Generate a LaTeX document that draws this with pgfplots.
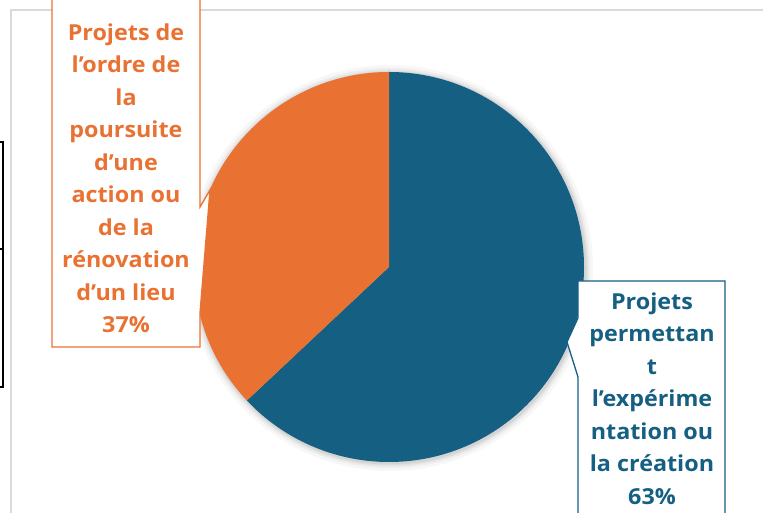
\documentclass[border=0pt]{standalone}
\usepackage{pgfplots}
\pgfplotsset{compat=1.18}
\usepackage{pgfplotstable}
\usepackage{fontspec}
\setmainfont{Open Sans}[FakeStretch=1.06]
\definecolor{pieblue}{HTML}{156082}
\definecolor{pieorange}{HTML}{E97132}
\definecolor{framegray}{HTML}{D9D9D9}
\pgfplotstableread{
label value
creation 63
renovation 37
}\piedata
\begin{document}
\begin{tikzpicture}
\pgfplotstablegetelem{0}{value}\of\piedata
\pgfmathsetmacro{\va}{\pgfplotsretval}
\pgfplotstablegetelem{1}{value}\of\piedata
\pgfmathsetmacro{\vb}{\pgfplotsretval}
\pgfmathsetmacro{\shareA}{\va/(\va+\vb)}
\pgfmathsetmacro{\angA}{90-360*\shareA}
\xdef\angA{\angA}
\begin{axis}[
  x=1pt, y=1pt, xmin=0, xmax=763, ymin=0, ymax=513,
  hide axis, scale only axis, clip=true,
]
% frame
\draw[framegray, line width=1.5pt] (axis cs:11,0) -- (axis cs:11,503) -- (axis cs:763,503);
% left black lines
\draw[black, line width=1.5pt] (axis cs:0,371) -- (axis cs:3,371) -- (axis cs:3,126) -- (axis cs:0,126);
\draw[black, line width=1.5pt] (axis cs:0,264) -- (axis cs:3,264);
% shadow
\fill[black, opacity=0.03] (axis cs:390,245) circle[radius=203pt];
\fill[black, opacity=0.04] (axis cs:390,245) circle[radius=200pt];
\fill[black, opacity=0.05] (axis cs:390,245) circle[radius=198pt];
\fill[black, opacity=0.06] (axis cs:390,245) circle[radius=196.5pt];
% pie
\fill[pieblue] (axis cs:389,246) -- ++(90:195pt) arc[start angle=90, end angle=\angA, radius=195pt] -- cycle;
\fill[pieorange] (axis cs:389,246) -- ++(\angA:195pt) arc[start angle=\angA, end angle=-270, radius=195pt] -- cycle;
% orange callout
\filldraw[fill=white, draw=pieorange, line width=1.3pt]
  (axis cs:52,520) -- (axis cs:200,520) -- (axis cs:200,306) -- (axis cs:210,323)
  -- (axis cs:200,200) -- (axis cs:200,166) -- (axis cs:52,166) -- cycle;
\node[text=pieorange, align=center, font=\fontsize{22}{32.5}\selectfont\bfseries, anchor=north]
  at (axis cs:126,493) {Projets de\\l’ordre de\\la\\poursuite\\d’une\\action ou\\de la\\rénovation\\d’un lieu\\37\%};
% blue callout
\filldraw[fill=white, draw=pieblue, line width=1.3pt]
  (axis cs:578,-10) -- (axis cs:578,136) -- (axis cs:567,171) -- (axis cs:578,195)
  -- (axis cs:578,232) -- (axis cs:725,232) -- (axis cs:725,-10) -- cycle;
\node[text=pieblue, align=center, font=\fontsize{22}{32.5}\selectfont\bfseries, anchor=north]
  at (axis cs:652,224) {Projets\\permettan\\t\\l’expérime\\ntation ou\\la création\\63\%};
\end{axis}
\end{tikzpicture}
\end{document}
